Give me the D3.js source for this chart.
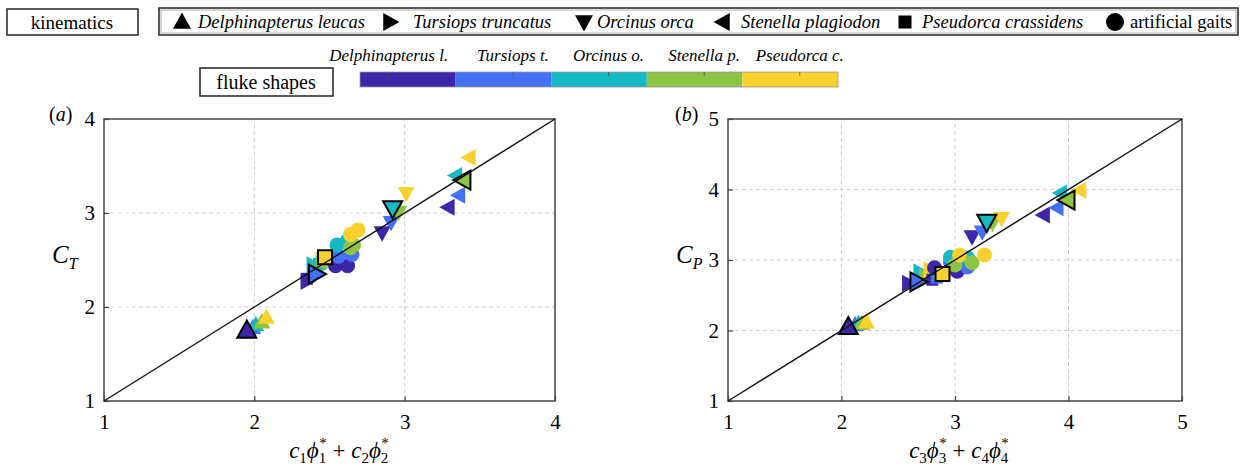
<!DOCTYPE html>
<html lang="en">
<head>
<meta charset="UTF-8">
<title>Thrust and power coefficients</title>
<script src="https://cdn.jsdelivr.net/npm/d3@7"></script>
<style>
    body { margin: 0; background: #fff; }
    text { font-family: "Liberation Serif", "Times New Roman", serif; fill: #000; }
</style>
</head>
<body>
<svg id="chart" width="1244" height="466"></svg>
<script>
// legend data
const kinematics = ["Delphinapterus leucas", "Tursiops truncatus", "Orcinus orca", "Stenella plagiodon", "Pseudorca crassidens", "artificial gaits"];
const kinematicShapes = ["up", "right", "down", "left", "square", "circle"];
const flukeShapes = ["Delphinapterus l.", "Tursiops t.", "Orcinus o.", "Stenella p.", "Pseudorca c."];
const flukeColors = ["#3d26a8", "#4470f5", "#14b9c4", "#8cc443", "#f8d12c"];
const colorbarTicks = [0.3, 1.6, 2.6, 3.6, 4.6];

const ticksA = [1, 2, 3, 4];
const ticksB = [1, 2, 3, 4, 5];

// panel (a): C_T against c1*phi1 + c2*phi2, one value per fluke shape (same order as flukeShapes)
const aUpX = [1.95, 1.99, 2.01, 2.05, 2.08];
const aUpY = [1.75, 1.78, 1.81, 1.84, 1.89];
const aRightX = [2.35, 2.41, 2.39, 2.43, 2.45];
const aRightY = [2.27, 2.35, 2.45, 2.41, 2.50];
const aDownX = [2.85, 2.91, 2.92, 2.96, 3.01];
const aDownY = [2.79, 2.90, 3.05, 3.01, 3.21];
const aLeftX = [3.29, 3.36, 3.34, 3.39, 3.43];
const aLeftY = [3.06, 3.19, 3.40, 3.35, 3.59];
const aSquareX = [2.35, 2.40, 2.43, 2.45, 2.47];
const aSquareY = [2.30, 2.38, 2.46, 2.48, 2.53];
// artificial gaits
const aGaitX = [2.54, 2.62, 2.56, 2.65, 2.55, 2.62, 2.64, 2.66, 2.64, 2.69];
const aGaitY = [2.44, 2.44, 2.54, 2.56, 2.66, 2.71, 2.63, 2.66, 2.77, 2.82];
const aGaitFluke = [0, 0, 1, 1, 2, 2, 3, 3, 4, 4];

// panel (b): C_P against c3*phi3 + c4*phi4
const bUpX = [2.06, 2.12, 2.15, 2.18, 2.22];
const bUpY = [2.05, 2.08, 2.10, 2.10, 2.12];
const bRightX = [2.59, 2.67, 2.69, 2.74, 2.78];
const bRightY = [2.67, 2.69, 2.83, 2.76, 2.86];
const bDownX = [3.15, 3.24, 3.28, 3.33, 3.41];
const bDownY = [3.33, 3.40, 3.54, 3.52, 3.59];
const bLeftX = [3.78, 3.90, 3.93, 3.99, 4.10];
const bLeftY = [3.64, 3.74, 3.95, 3.85, 3.99];
const bSquareX = [2.80, 2.84, 2.86, 2.88, 2.89];
const bSquareY = [2.72, 2.75, 2.78, 2.78, 2.80];
const bGaitX = [2.82, 3.02, 2.96, 3.11, 2.96, 3.11, 3.00, 3.15, 3.04, 3.26];
const bGaitY = [2.89, 2.84, 2.97, 2.90, 3.04, 3.03, 2.93, 2.96, 3.07, 3.07];
const bGaitFluke = [0, 0, 1, 1, 2, 2, 3, 3, 4, 4];

const svg = d3.select("#chart");

// marker outlines, centred on 0,0
function markerPath(shape, r) {
    if (shape === "square") return `M${-r},${-r}H${r}V${r}H${-r}Z`;
    if (shape === "circle") {
        const p = d3.path();
        p.arc(0, 0, r, 0, 2 * Math.PI);
        return p.toString();
    }
    const angle = { up: 0, right: 90, down: 180, left: 270 }[shape] * Math.PI / 180;
    const pts = [[0, -r * 1.05], [r, r * 0.75], [-r, r * 0.75]].map(([x, y]) => [
        x * Math.cos(angle) - y * Math.sin(angle),
        x * Math.sin(angle) + y * Math.cos(angle)
    ]);
    return "M" + pts.map(p => p.join(",")).join("L") + "Z";
}

const markerSize = { up: 8.5, right: 8.5, down: 8.5, left: 8.5, square: 6, circle: 7.5 };

function drawPanel(opts) {
    const { x, y, ticks, series, gaitX, gaitY, gaitFluke } = opts;
    const g = svg.append("g");
    const [x0, x1] = x.range();
    const [y0, y1] = y.range();

    // grid
    g.append("g").selectAll("line.gx").data(ticks.slice(1, -1)).enter().append("line")
        .attr("x1", d => x(d)).attr("x2", d => x(d)).attr("y1", y0).attr("y2", y1)
        .attr("stroke", "#cfcfcf").attr("stroke-dasharray", "4,3");
    g.append("g").selectAll("line.gy").data(ticks.slice(1, -1)).enter().append("line")
        .attr("y1", d => y(d)).attr("y2", d => y(d)).attr("x1", x0).attr("x2", x1)
        .attr("stroke", "#cfcfcf").attr("stroke-dasharray", "4,3");

    // box
    g.append("rect").attr("x", x0).attr("y", y1).attr("width", x1 - x0).attr("height", y0 - y1)
        .attr("fill", "none").attr("stroke", "#444").attr("stroke-width", 1.5);

    const xAxis = g.append("g").attr("transform", `translate(0,${y0})`)
        .call(d3.axisBottom(x).tickValues(ticks).tickFormat(d3.format("d")).tickSize(-5).tickPadding(13));
    const yAxis = g.append("g").attr("transform", `translate(${x0},0)`)
        .call(d3.axisLeft(y).tickValues(ticks).tickFormat(d3.format("d")).tickSize(-5).tickPadding(9));
    [xAxis, yAxis].forEach(a => {
        a.select(".domain").remove();
        a.selectAll(".tick line").attr("stroke", "#444").attr("stroke-width", 1.2);
        a.selectAll(".tick text").style("font-family", '"Liberation Serif", serif').style("font-size", "21px");
    });

    const plain = [], native = [];
    series.forEach((s, si) => {
        s.x.forEach((v, i) => {
            const m = { shape: s.shape, x: v, y: s.y[i], fluke: i };
            if (i === si) native.push(m); else plain.push(m);
        });
    });
    const gaits = gaitX.map((v, i) => ({ shape: "circle", x: v, y: gaitY[i], fluke: gaitFluke[i] }));

    const marks = g.append("g");
    marks.selectAll("path.plain").data(plain).enter().append("path")
        .attr("d", d => markerPath(d.shape, markerSize[d.shape]))
        .attr("transform", d => `translate(${x(d.x)},${y(d.y)})`)
        .attr("fill", d => flukeColors[d.fluke]);
    marks.selectAll("path.gait").data(gaits).enter().append("path")
        .attr("d", d => markerPath("circle", markerSize.circle))
        .attr("transform", d => `translate(${x(d.x)},${y(d.y)})`)
        .attr("fill", d => flukeColors[d.fluke]);
    marks.selectAll("path.native").data(native).enter().append("path")
        .attr("d", d => markerPath(d.shape, markerSize[d.shape] + 1))
        .attr("transform", d => `translate(${x(d.x)},${y(d.y)})`)
        .attr("fill", d => flukeColors[d.fluke])
        .attr("stroke", "#000").attr("stroke-width", 2).attr("stroke-linejoin", "miter");

    // identity line
    const lo = ticks[0], hi = ticks[ticks.length - 1];
    g.append("line").attr("x1", x(lo)).attr("y1", y(lo)).attr("x2", x(hi)).attr("y2", y(hi))
        .attr("stroke", "#111").attr("stroke-width", 1.4);
    return g;
}

// text with sub/superscripts; parts: [text, size, italic, dx, dy]
function mathText(x, y, anchor, parts) {
    const t = svg.append("text").attr("x", x).attr("y", y).attr("text-anchor", anchor);
    parts.forEach(([s, size, italic, dx, dy]) => {
        t.append("tspan").text(s).attr("dx", dx || 0).attr("dy", dy || 0)
            .style("font-size", size + "px").style("font-style", italic ? "italic" : "normal");
    });
    return t;
}

function xLabel(cx, a, b) {
    return mathText(cx, 458, "middle", [
        ["c", 23, true], [a, 15, false, 0, 5], ["\u03d5", 23, true, 0, -5], [a, 15, false, 0, 5], ["*", 15, false, -7, -15],
        [" + ", 23, false, 0, 10],
        ["c", 23, true], [b, 15, false, 0, 5], ["\u03d5", 23, true, 0, -5], [b, 15, false, 0, 5], ["*", 15, false, -7, -15]
    ]);
}

// panel (a)
const xA = d3.scaleLinear([1, 4], [104, 555]);
const yA = d3.scaleLinear([1, 4], [401, 119]);
drawPanel({
    x: xA, y: yA, ticks: ticksA,
    series: [
        { shape: "up", x: aUpX, y: aUpY },
        { shape: "right", x: aRightX, y: aRightY },
        { shape: "down", x: aDownX, y: aDownY },
        { shape: "left", x: aLeftX, y: aLeftY },
        { shape: "square", x: aSquareX, y: aSquareY }
    ],
    gaitX: aGaitX, gaitY: aGaitY, gaitFluke: aGaitFluke
});
mathText(49, 121, "start", [["(", 20, false], ["a", 20, true], [")", 20, false]]);
mathText(52, 263, "start", [["C", 25, true], ["T", 16, true, 0, 6]]);
xLabel(339, "1", "2");

// panel (b)
const xB = d3.scaleLinear([1, 5], [728, 1182]);
const yB = d3.scaleLinear([1, 5], [401, 119]);
drawPanel({
    x: xB, y: yB, ticks: ticksB,
    series: [
        { shape: "up", x: bUpX, y: bUpY },
        { shape: "right", x: bRightX, y: bRightY },
        { shape: "down", x: bDownX, y: bDownY },
        { shape: "left", x: bLeftX, y: bLeftY },
        { shape: "square", x: bSquareX, y: bSquareY }
    ],
    gaitX: bGaitX, gaitY: bGaitY, gaitFluke: bGaitFluke
});
mathText(675, 121, "start", [["(", 20, false], ["b", 20, true], [")", 20, false]]);
mathText(676, 263, "start", [["C", 25, true], ["P", 16, true, 0, 6]]);
xLabel(959, "3", "4");

// kinematics legend
svg.append("rect").attr("x", 7).attr("y", 9).attr("width", 131).attr("height", 26)
    .attr("fill", "#fff").attr("stroke", "#222").attr("stroke-width", 1.5);
svg.append("text").attr("x", 72).attr("y", 29).attr("text-anchor", "middle").style("font-size", "19px").text("kinematics");

svg.append("rect").attr("x", 159).attr("y", 8).attr("width", 1079).attr("height", 27)
    .attr("fill", "#fff").attr("stroke", "#222").attr("stroke-width", 1.5);
svg.append("rect").attr("x", 161).attr("y", 10).attr("width", 1075).attr("height", 23)
    .attr("fill", "none").attr("stroke", "#999").attr("stroke-width", 0.8);

const legendMarkerX = [182, 390, 584, 723, 905, 1115];
const legendTextX = [198, 413, 597, 741, 922, 1130];
const legend = svg.append("g").selectAll("g").data(kinematics).enter().append("g");
legend.append("path")
    .attr("d", (d, i) => markerPath(kinematicShapes[i], kinematicShapes[i] === "square" ? 6.5 : 9))
    .attr("transform", (d, i) => `translate(${legendMarkerX[i]},22)`)
    .attr("fill", "#000");
legend.append("text")
    .attr("x", (d, i) => legendTextX[i]).attr("y", 28)
    .style("font-size", "18.5px")
    .style("font-style", (d, i) => i < 5 ? "italic" : "normal")
    .text(d => d);

// fluke shape colour bar
svg.append("rect").attr("x", 200).attr("y", 68).attr("width", 133).attr("height", 28)
    .attr("fill", "#fff").attr("stroke", "#222").attr("stroke-width", 1.5);
svg.append("text").attr("x", 266).attr("y", 89).attr("text-anchor", "middle").style("font-size", "20px").text("fluke shapes");

const cb = d3.scaleLinear([0, flukeShapes.length], [360, 838]);
const cbar = svg.append("g");
cbar.selectAll("rect").data(flukeColors).enter().append("rect")
    .attr("x", (d, i) => cb(i)).attr("y", 72).attr("width", cb(1) - cb(0)).attr("height", 15)
    .attr("fill", d => d);
cbar.append("rect").attr("x", cb(0)).attr("y", 72).attr("width", cb(5) - cb(0)).attr("height", 15)
    .attr("fill", "none").attr("stroke", "#999").attr("stroke-width", 0.8);
cbar.selectAll("line").data(colorbarTicks).enter().append("line")
    .attr("x1", d => cb(d)).attr("x2", d => cb(d)).attr("y1", 72).attr("y2", 76)
    .attr("stroke", "#555").attr("stroke-width", 0.8);
cbar.selectAll("text").data(flukeShapes).enter().append("text")
    .attr("x", (d, i) => cb(colorbarTicks[i])).attr("y", 61).attr("text-anchor", "middle")
    .style("font-size", "17px").style("font-style", "italic").text(d => d);
</script>
</body>
</html>
